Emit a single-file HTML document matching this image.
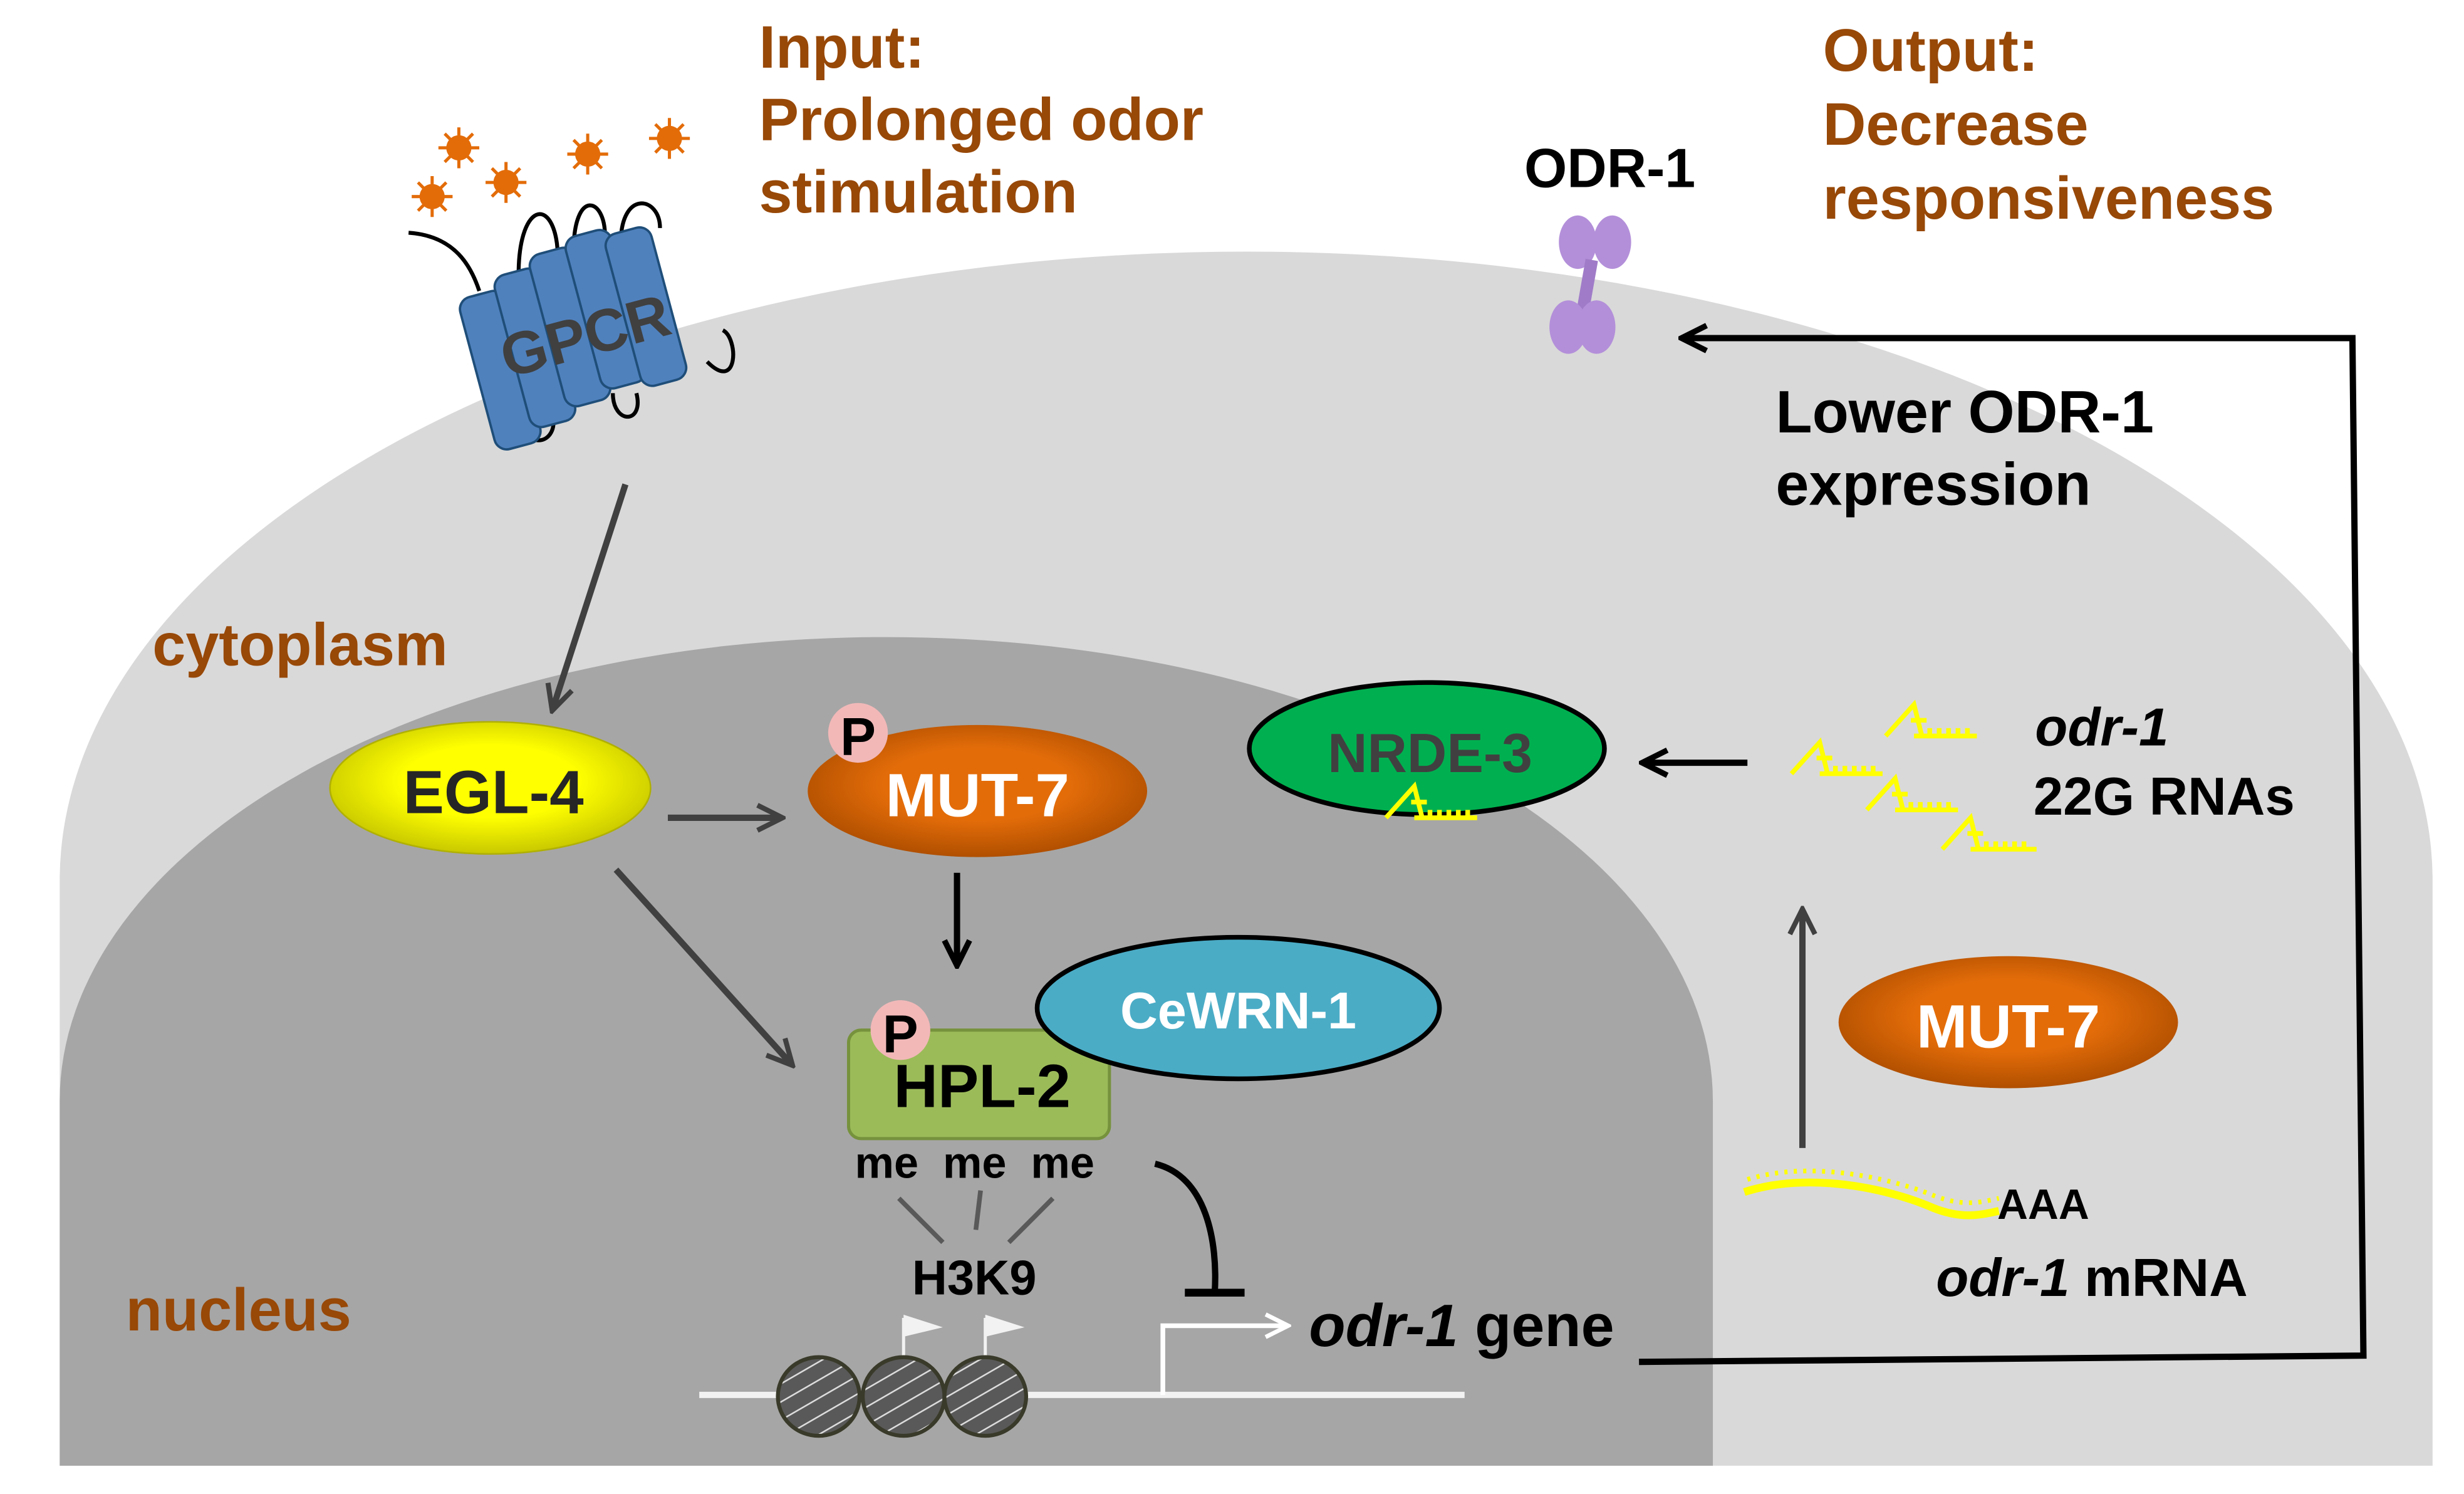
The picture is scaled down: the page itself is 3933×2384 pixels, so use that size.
<!DOCTYPE html>
<html><head><meta charset="utf-8"><style>
html,body{margin:0;padding:0;background:#fff}
svg{display:block}
text{font-family:"Liberation Sans",Arial,sans-serif;font-weight:bold}
</style></head><body>
<svg width="3933" height="2384" viewBox="0 0 1568 950" preserveAspectRatio="none" xmlns="http://www.w3.org/2000/svg">
<defs>
<marker id="ah" viewBox="0 0 10 10" refX="8" refY="5" markerWidth="5" markerHeight="5" orient="auto"><path d="M1,1 L9,5 L1,9" fill="none" stroke="#404040" stroke-width="1.6"/></marker>
<marker id="ahb" viewBox="0 0 10 10" refX="8" refY="5" markerWidth="5" markerHeight="5" orient="auto"><path d="M1,1 L9,5 L1,9" fill="none" stroke="#000" stroke-width="1.8"/></marker>
<marker id="ahw" viewBox="0 0 10 10" refX="8" refY="5" markerWidth="6" markerHeight="6" orient="auto"><path d="M1,1 L9,5 L1,9" fill="none" stroke="#fff" stroke-width="1.5"/></marker>
<pattern id="hatch" width="10" height="10" patternUnits="userSpaceOnUse" patternTransform="rotate(60)"><rect width="10" height="10" fill="#595959"/><line x1="0" y1="0" x2="0" y2="10" stroke="#ddd" stroke-width="2"/></pattern>
<radialGradient id="gy" cx="50%" cy="45%" r="55%"><stop offset="0.5" stop-color="#ffff00"/><stop offset="1" stop-color="#c8c800"/></radialGradient>
<radialGradient id="go" cx="50%" cy="45%" r="55%"><stop offset="0.5" stop-color="#e36c09"/><stop offset="1" stop-color="#b04f00"/></radialGradient>
</defs>
<path d="M38,932 L38,560 A755,400 0 0 1 1548,560 L1548,932 Z" fill="#d9d9d9"/>
<path d="M38,932 L38,700 A526,295 0 0 1 1090,700 L1090,932 Z" fill="#a6a6a6"/>

<text x="483" y="43" font-size="38" fill="#984807">Input:</text>
<text x="483" y="89" font-size="38" fill="#984807">Prolonged odor</text>
<text x="483" y="135" font-size="38" fill="#984807">stimulation</text>
<text x="1160" y="45" font-size="38" fill="#984807">Output:</text>
<text x="1160" y="92" font-size="38" fill="#984807">Decrease</text>
<text x="1160" y="139" font-size="38" fill="#984807">responsiveness</text>
<text x="97" y="423" font-size="38" fill="#984807">cytoplasm</text>
<text x="80" y="846" font-size="38" fill="#984807">nucleus</text>
<text x="970" y="119" font-size="35" fill="#000">ODR-1</text>
<text x="1130" y="275" font-size="38" fill="#000">Lower ODR-1</text>
<text x="1130" y="321" font-size="38" fill="#000">expression</text>

<g fill="#e36c09" stroke="#e36c09" stroke-width="2">
<g transform="translate(292,94)"><circle r="7"/><path d="M-13,0H13M0,-13V13M-9,-9L9,9M-9,9L9,-9"/></g>
<g transform="translate(322,116)"><circle r="7"/><path d="M-13,0H13M0,-13V13M-9,-9L9,9M-9,9L9,-9"/></g>
<g transform="translate(275,125)"><circle r="7"/><path d="M-13,0H13M0,-13V13M-9,-9L9,9M-9,9L9,-9"/></g>
<g transform="translate(374,98)"><circle r="7"/><path d="M-13,0H13M0,-13V13M-9,-9L9,9M-9,9L9,-9"/></g>
<g transform="translate(426,88)"><circle r="7"/><path d="M-13,0H13M0,-13V13M-9,-9L9,9M-9,9L9,-9"/></g>
</g>
<g stroke="#000" stroke-width="2.5" fill="none">
<path d="M260,148 C290,150 300,170 305,185"/>
<path d="M330,175 C330,125 355,125 355,165"/>
<path d="M365,160 C365,120 385,125 385,150"/>
<path d="M395,155 C395,120 420,125 420,145"/>
<path d="M335,265 C330,285 355,285 352,265"/>
<path d="M390,250 C390,270 410,270 405,250"/>
<path d="M450,230 C470,250 470,215 460,210"/>
</g>
<g transform="rotate(-15,375,215)" fill="#4f81bd" stroke="#1f4e79" stroke-width="1.5">
<rect x="300" y="170" width="30" height="100" rx="8"/>
<rect x="325" y="162" width="30" height="100" rx="8"/>
<rect x="350" y="155" width="30" height="100" rx="8"/>
<rect x="375" y="150" width="30" height="100" rx="8"/>
<rect x="400" y="155" width="30" height="100" rx="8"/>
<text x="318" y="226" font-size="38" fill="#404040" stroke="none">GPCR</text>
</g>

<g fill="#b38fd9"><ellipse cx="1004" cy="154" rx="12" ry="17"/><ellipse cx="1026" cy="154" rx="12" ry="17"/><rect x="1006" y="165" width="8" height="34" fill="#a07cc8" transform="rotate(10,1010,182)"/><ellipse cx="998" cy="208" rx="12" ry="17"/><ellipse cx="1016" cy="208" rx="12" ry="17"/></g>

<polyline points="1043,866 1504,862 1497,215 1072,215" fill="none" stroke="#000" stroke-width="4" marker-end="url(#ahb)"/>

<line x1="398" y1="308" x2="352" y2="450" stroke="#404040" stroke-width="4" marker-end="url(#ah)"/>
<line x1="425" y1="520" x2="496" y2="520" stroke="#404040" stroke-width="4" marker-end="url(#ah)"/>
<line x1="392" y1="553" x2="503" y2="676" stroke="#404040" stroke-width="4" marker-end="url(#ah)"/>
<line x1="609" y1="555" x2="609" y2="612" stroke="#000" stroke-width="4" marker-end="url(#ahb)"/>
<line x1="1112" y1="485" x2="1047" y2="485" stroke="#000" stroke-width="4" marker-end="url(#ahb)"/>
<line x1="1147" y1="730" x2="1147" y2="580" stroke="#404040" stroke-width="4" marker-end="url(#ah)"/>

<ellipse cx="312" cy="501" rx="102" ry="42" fill="url(#gy)" stroke="#b0b000" stroke-width="1"/>
<text x="314" y="517" font-size="39" text-anchor="middle" fill="#262626">EGL-4</text>
<ellipse cx="622" cy="503" rx="108" ry="42" fill="url(#go)"/>
<text x="622" y="519" font-size="39" text-anchor="middle" fill="#fff">MUT-7</text>
<circle cx="546" cy="466" r="19" fill="#f2b8b8"/>
<text x="546" y="480" font-size="34" text-anchor="middle" fill="#000">P</text>

<rect x="540" y="655" width="166" height="69" rx="8" fill="#9bbb59" stroke="#76923c" stroke-width="2"/>
<text x="625" y="704" font-size="39" text-anchor="middle" fill="#000">HPL-2</text>
<ellipse cx="788" cy="641" rx="128" ry="45" fill="#4bacc6" stroke="#000" stroke-width="3"/>
<text x="788" y="654" font-size="33" text-anchor="middle" fill="#fff">CeWRN-1</text>
<circle cx="573" cy="655" r="19" fill="#f2b8b8"/>
<text x="573" y="669" font-size="34" text-anchor="middle" fill="#000">P</text>
<text x="544" y="749" font-size="28" fill="#000">me</text>
<text x="600" y="749" font-size="28" fill="#000">me</text>
<text x="656" y="749" font-size="28" fill="#000">me</text>
<g stroke="#595959" stroke-width="3"><line x1="572" y1="762" x2="600" y2="790"/><line x1="624" y1="757" x2="621" y2="782"/><line x1="670" y1="762" x2="642" y2="790"/></g>
<text x="620" y="823" font-size="31" text-anchor="middle" fill="#000">H3K9</text>
<path d="M735,740 C768,748 775,790 773,822" fill="none" stroke="#000" stroke-width="4"/>
<line x1="754" y1="822" x2="792" y2="822" stroke="#000" stroke-width="5"/>

<line x1="445" y1="887" x2="932" y2="887" stroke="#f2f2f2" stroke-width="4"/>
<path d="M740,887 V843 H818" fill="none" stroke="#fff" stroke-width="3" marker-end="url(#ahw)"/>
<g stroke="#f2f2f2" stroke-width="2"><line x1="575" y1="863" x2="575" y2="838"/><line x1="627" y1="863" x2="627" y2="838"/></g>
<path d="M575,836 L600,844 L575,850Z M627,836 L652,844 L627,850Z" fill="#f2f2f2"/>
<g stroke="#3a3a2a" stroke-width="2.5" fill="url(#hatch)">
<ellipse cx="521" cy="888" rx="26" ry="25"/><ellipse cx="575" cy="888" rx="26" ry="25"/><ellipse cx="627" cy="888" rx="26" ry="25"/></g>
<text x="833" y="856" font-size="38" fill="#000"><tspan font-style="italic">odr-1</tspan> gene</text>

<ellipse cx="908" cy="476" rx="113" ry="42" fill="#00b050" stroke="#000" stroke-width="3"/>
<text x="910" y="491" font-size="35" text-anchor="middle" fill="#404040">NRDE-3</text>
<g stroke="#ffff00" stroke-width="3" fill="none">
<path d="M882,520 L900,500 L905,520 M900,520 H940 M910,520v-5M916,520v-5M922,520v-5M928,520v-5M934,520v-5 M898,510h10"/>
<path d="M1140,492 L1158,472 L1163,492 M1158,492 H1198 M1168,492v-5M1174,492v-5M1180,492v-5M1186,492v-5M1192,492v-5 M1156,482h10"/>
<path d="M1200,468 L1218,448 L1223,468 M1218,468 H1258 M1228,468v-5M1234,468v-5M1240,468v-5M1246,468v-5M1252,468v-5 M1216,458h10"/>
<path d="M1188,515 L1206,495 L1211,515 M1206,515 H1246 M1216,515v-5M1222,515v-5M1228,515v-5M1234,515v-5M1240,515v-5 M1204,505h10"/>
<path d="M1236,540 L1254,520 L1259,540 M1254,540 H1296 M1264,540v-5M1270,540v-5M1276,540v-5M1282,540v-5M1288,540v-5 M1252,530h10"/>
</g>
<text x="1295" y="474" font-size="34" font-style="italic" fill="#000">odr-1</text>
<text x="1294" y="518" font-size="34" fill="#000">22G RNAs</text>

<ellipse cx="1278" cy="650" rx="108" ry="42" fill="url(#go)"/>
<text x="1278" y="666" font-size="39" text-anchor="middle" fill="#fff">MUT-7</text>
<path d="M1110,758 C1150,745 1200,755 1230,768 C1250,776 1262,772 1272,770" fill="none" stroke="#ffff00" stroke-width="5"/>
<path d="M1112,750 C1150,738 1200,748 1230,760 C1250,768 1262,764 1272,762" fill="none" stroke="#ffff00" stroke-width="3" stroke-dasharray="2 4"/>
<text x="1271" y="775" font-size="27" fill="#000">AAA</text>
<text x="1232" y="824" font-size="34" fill="#000"><tspan font-style="italic">odr-1</tspan> mRNA</text>
</svg>
</body></html>
